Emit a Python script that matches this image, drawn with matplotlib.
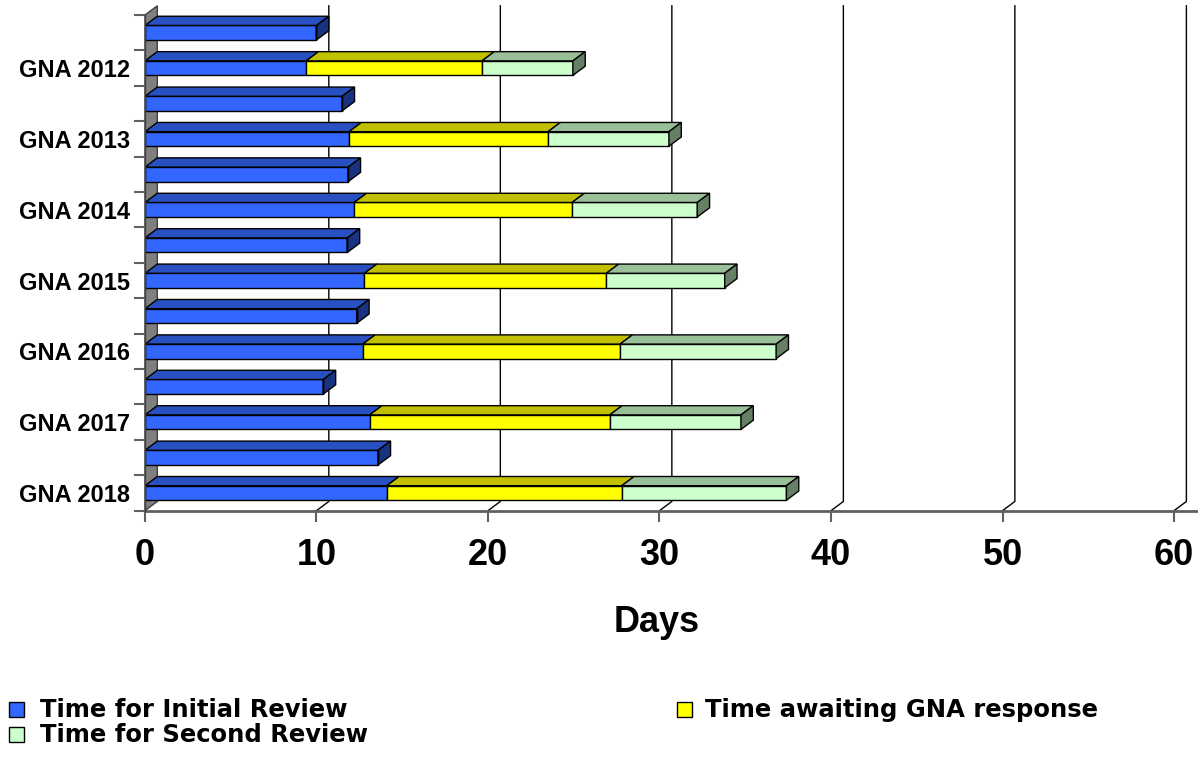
import matplotlib.pyplot as plt
from matplotlib.patches import Polygon, Rectangle

# rows listed top to bottom, as they appear in the chart
categories = ['', 'GNA 2012', '', 'GNA 2013', '', 'GNA 2014', '', 'GNA 2015',
              '', 'GNA 2016', '', 'GNA 2017', '', 'GNA 2018']
initial = [10.0, 9.4, 11.5, 11.9, 11.85, 12.2, 11.8, 12.8, 12.35, 12.7, 10.4, 13.1, 13.6, 14.1]
awaiting = [0, 10.25, 0, 11.6, 0, 12.7, 0, 14.1, 0, 15.0, 0, 14.0, 0, 13.7]
second = [0, 5.3, 0, 7.05, 0, 7.3, 0, 6.9, 0, 9.1, 0, 7.65, 0, 9.6]
series_names = ['Time for Initial Review', 'Time awaiting GNA response', 'Time for Second Review']
x_ticks = [0, 10, 20, 30, 40, 50, 60]

# front / top / side shades of each series
shades = [('#3366FF', '#2850C0', '#1A3380'),
          ('#FFFF00', '#C0C000', '#808000'),
          ('#CCFFCC', '#99C099', '#668066')]

plt.rcParams['font.family'] = 'Liberation Sans'
plt.rcParams['font.weight'] = 'bold'

DX, DY = 0.72, 0.26   # depth offset (x in days, y in rows)
H = 0.41

fig = plt.figure(figsize=(11.98, 7.58), dpi=100)
ax = fig.add_axes([0.121, 0.3263, 0.859, 0.6539])
n = len(categories)
ypos = [n - 1 - i for i in range(n)]
ax.set_xlim(0, 60)
ax.set_ylim(-0.5, n - 0.5)
for s in ax.spines.values():
    s.set_visible(False)

# side wall
ax.add_patch(Polygon([(0, -0.5), (DX, -0.5 + DY), (DX, n - 0.5 + DY), (0, n - 0.5)],
                     closed=True, fc='#808080', ec='#404040', lw=1, clip_on=False, zorder=1))

# gridlines on back wall and floor
for v in x_ticks[1:]:
    ax.plot([v + DX, v + DX, v], [n - 0.5 + DY, -0.5 + DY, -0.5],
            color='black', lw=1, clip_on=False, zorder=1.5)

series = [initial, awaiting, second]
lefts = [0.0] * n
for j, vals in enumerate(series):
    front, top, side = shades[j]
    ax.barh(ypos, vals, left=lefts, height=H, color=front, edgecolor='black',
            lw=1, zorder=3)
    for i in range(n):
        v = vals[i]
        if v <= 0:
            continue
        l = lefts[i]
        yb, yt = ypos[i] - H / 2, ypos[i] + H / 2
        ax.add_patch(Polygon([(l, yt), (l + v, yt), (l + v + DX, yt + DY), (l + DX, yt + DY)],
                             closed=True, fc=top, ec='black', lw=1, zorder=3))
        # end face only on the last visible segment
        rest = sum(series[k][i] for k in range(j + 1, len(series)))
        if rest <= 0:
            r = l + v
            ax.add_patch(Polygon([(r, yb), (r, yt), (r + DX, yt + DY), (r + DX, yb + DY)],
                                 closed=True, fc=side, ec='black', lw=1, zorder=3))
    lefts = [lefts[i] + vals[i] for i in range(n)]

# floor front edge
ax.plot([0, 61.5], [-0.5, -0.5], color='#606060', lw=2, clip_on=False, zorder=4)
ax.plot([0, 0], [-0.5, n - 0.5], color='#404040', lw=1, clip_on=False, zorder=4)

ax.set_xticks(x_ticks)
ax.set_xticklabels([str(t) for t in x_ticks])
ax.tick_params(axis='x', length=8, width=1.5, color='#606060', pad=11.5, labelsize=26)

lab_pos = [ypos[i] for i in range(n) if categories[i]]
lab_txt = [c for c in categories if c]
ax.set_yticks(lab_pos)
ax.set_yticklabels(lab_txt)
ax.set_yticks([k - 0.5 for k in range(n + 1)], minor=True)
ax.tick_params(axis='y', which='major', length=0, pad=11, labelsize=17)
ax.tick_params(axis='y', which='minor', length=8, width=1.5, color='#606060')

fig.text(657 / 1198, 1 - 632 / 758, 'Days', ha='center', va='baseline', fontsize=26)

# legend
W, Ht = 1198.0, 758.0
leg = [(0, 9, 40, 717), (1, 677, 705, 717), (2, 9, 40, 742)]
for j, mx, tx, base in leg:
    fig.patches.append(Rectangle((mx / W, 1 - base / Ht), 15 / W, 15 / Ht,
                                 transform=fig.transFigure, fc=shades[j][0],
                                 ec='black', lw=1))
    fig.text(tx / W, 1 - base / Ht, series_names[j], va='baseline', fontsize=17.5,
             family='DejaVu Sans', weight='bold')

fig.savefig('out.png', dpi=100, facecolor='white')
